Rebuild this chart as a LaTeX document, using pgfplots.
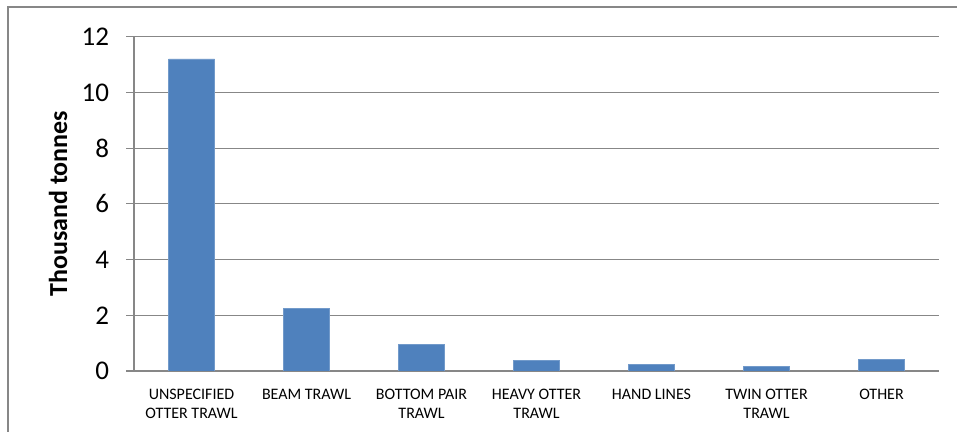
\documentclass[border=0pt]{standalone}
\usepackage{fontspec}
\setmainfont{Carlito}
\usepackage{pgfplots}
\pgfplotsset{compat=1.18}
\definecolor{barblue}{HTML}{4F81BD}
\definecolor{gridgray}{HTML}{878787}
\begin{document}
\begin{tikzpicture}
\path[use as bounding box] (0,0) rectangle (478.5pt,216pt);
% chart area frame (top and left edges)
\draw[gridgray, line width=0.6pt] (4pt,0) -- (4pt,212.5pt) -- (478.5pt,212.5pt);
\begin{axis}[
  at={(67pt,30.5pt)}, anchor=south west,
  scale only axis, width=402.5pt, height=167.15pt,
  xmin=-0.5, xmax=6.5, ymin=0, ymax=12,
  axis x line=bottom, axis y line=left,
  axis line style={-, gridgray, line width=0.6pt},
  ytick={0,2,...,12},
  ymajorgrids, grid style={gridgray, line width=0.6pt},
  tick align=outside,
  y tick style={gridgray, line width=0.6pt},
  major tick length=4pt,
  xtick={0,...,6},
  xticklabels={UNSPECIFIED\\OTTER TRAWL, BEAM TRAWL, BOTTOM PAIR\\TRAWL, HEAVY OTTER\\TRAWL, HAND LINES, TWIN OTTER\\TRAWL, OTHER},
  x tick style={draw=none},
  extra x ticks={-0.5,0.5,...,6.5},
  extra x tick labels={},
  extra x tick style={grid=none, tick style={draw=gridgray, line width=0.6pt}, major tick length=3pt},
  xticklabel style={font=\fontsize{8}{9.5}\selectfont, align=center, text depth=0pt, yshift=-1.5pt},
  yticklabel style={font=\fontsize{13.5}{15}\selectfont, xshift=-5pt},
  /pgf/number format/assume math mode=true,
  ylabel={Thousand tonnes},
  ylabel style={font=\fontsize{13}{15}\selectfont\bfseries, at={([xshift=-38pt]axis description cs:0,0.5)}, anchor=center},
  ybar, bar width=23pt,
]
\addplot[fill=barblue, draw=barblue!80!white] coordinates {
  (0,11.2) (1,2.26) (2,0.96) (3,0.38) (4,0.22) (5,0.17) (6,0.43)
};
\end{axis}
\end{tikzpicture}
\end{document}
